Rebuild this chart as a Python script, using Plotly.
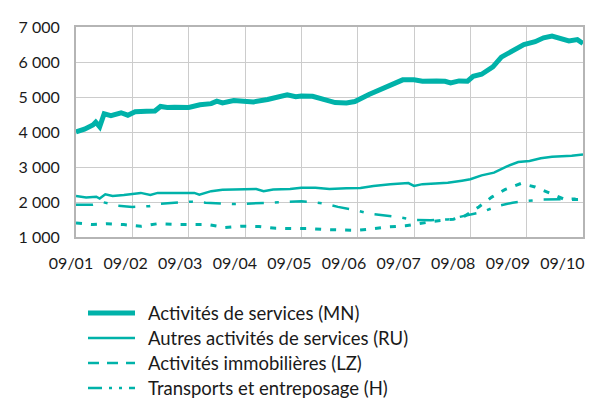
import plotly.graph_objects as go

# Time axis in decimal years (label "09/YY" = September of year YY)
mn_t = [2001.00, 2001.15, 2001.30, 2001.35, 2001.42, 2001.50, 2001.62, 2001.80, 2001.92,
        2002.05, 2002.25, 2002.40, 2002.50, 2002.62, 2002.75, 2003.00, 2003.20, 2003.40,
        2003.50, 2003.60, 2003.80, 2004.00, 2004.15, 2004.40, 2004.60, 2004.75, 2004.90,
        2005.00, 2005.20, 2005.40, 2005.60, 2005.80, 2005.95, 2006.20, 2006.40, 2006.60,
        2006.80, 2007.00, 2007.15, 2007.40, 2007.55, 2007.65, 2007.80, 2007.95, 2008.05,
        2008.20, 2008.40, 2008.55, 2008.75, 2008.95, 2009.15, 2009.30, 2009.45, 2009.60,
        2009.75, 2009.90, 2009.98, 2010.00]
mn_v = [4000, 4080, 4200, 4280, 4150, 4520, 4470, 4550, 4480,
        4580, 4590, 4600, 4730, 4700, 4710, 4700, 4780, 4810,
        4880, 4830, 4900, 4890, 4860, 4930, 4990, 5060, 5010,
        5030, 5020, 4940, 4840, 4830, 4870, 5070, 5200, 5360,
        5490, 5490, 5450, 5460, 5450, 5400, 5460, 5450, 5590,
        5650, 5860, 6140, 6330, 6500, 6580, 6690, 6740, 6670,
        6600, 6640, 6570, 6530]

ru_t = [2001.00, 2001.18, 2001.36, 2001.42, 2001.52, 2001.65, 2001.85, 2002.15, 2002.32,
        2002.45, 2002.70, 2003.10, 2003.19, 2003.40, 2003.60, 2004.00, 2004.20, 2004.33,
        2004.50, 2004.80, 2005.00, 2005.25, 2005.50, 2005.80, 2006.05, 2006.28, 2006.58,
        2006.90, 2007.00, 2007.15, 2007.35, 2007.60, 2007.85, 2008.00, 2008.20, 2008.42,
        2008.65, 2008.85, 2009.05, 2009.25, 2009.45, 2009.65, 2009.80, 2010.00]
ru_v = [2170, 2130, 2150, 2100, 2220, 2170, 2200, 2260, 2200,
        2260, 2260, 2260, 2210, 2310, 2350, 2360, 2370, 2310,
        2360, 2370, 2410, 2410, 2370, 2390, 2400, 2460, 2510,
        2540, 2460, 2510, 2530, 2550, 2610, 2650, 2760, 2840,
        3020, 3140, 3170, 3250, 3290, 3300, 3320, 3360]

lz_t = [2001.00, 2001.30, 2001.55, 2001.85, 2002.15, 2002.45, 2002.75, 2003.05, 2003.35,
        2003.65, 2003.95, 2004.25, 2004.55, 2004.85, 2005.15, 2005.45, 2005.75, 2006.00,
        2006.30, 2006.55, 2006.85, 2007.10, 2007.40, 2007.70, 2007.90, 2008.15, 2008.38,
        2008.62, 2008.90, 2009.15, 2009.42, 2009.65, 2009.85, 2010.00]
lz_v = [1400, 1355, 1380, 1355, 1305, 1380, 1360, 1350, 1355,
        1270, 1310, 1300, 1250, 1240, 1240, 1210, 1200, 1190,
        1240, 1290, 1320, 1390, 1460, 1510, 1600, 1860, 2140,
        2360, 2530, 2430, 2240, 2090, 2070, 2080]

h_t = [2001.00, 2001.30, 2001.49, 2001.75, 2002.00, 2002.30, 2002.50, 2002.75, 2003.05,
       2003.30, 2003.55, 2003.80, 2004.00, 2004.35, 2004.65, 2005.00, 2005.20, 2005.45,
       2005.65, 2005.95, 2006.20, 2006.45, 2006.72, 2007.00, 2007.30, 2007.60, 2007.90,
       2008.20, 2008.50, 2008.75, 2009.00, 2009.27, 2009.60, 2010.00]
h_v = [1920, 1920, 1990, 1890, 1860, 1880, 1950, 1970, 2010,
       1980, 1960, 1940, 1950, 1970, 2000, 2020, 2000, 1940,
       1860, 1770, 1670, 1620, 1570, 1490, 1480, 1500, 1600,
       1710, 1890, 1980, 2030, 2070, 2080, 2100]

series_names = ["Activités de services (MN)", "Autres activités de services (RU)",
                "Activités immobilières (LZ)", "Transports et entreposage (H)"]

grid_years = [2001, 2002, 2003, 2004, 2005, 2006, 2007, 2008, 2009, 2010]
tick_labels = ["09/01", "09/02", "09/03", "09/04", "09/05",
               "09/06", "09/07", "09/08", "09/09", "09/10"]
y_ticks = [1000, 2000, 3000, 4000, 5000, 6000, 7000]
y_labels = ["1 000", "2 000", "3 000", "4 000", "5 000", "6 000", "7 000"]

TEAL = "#00B2A9"
FONT = "Lato"
TEXT = "#1a1a1a"

# line styles per series
styles = [
    dict(color=TEAL, width=5),
    dict(color=TEAL, width=2.5),
    dict(color=TEAL, width=3, dash="6px,9px"),
    dict(color=TEAL, width=2.5, dash="17px,11px,4px,11px"),
]
legend_styles = [
    dict(color=TEAL, width=5),
    dict(color=TEAL, width=2.5),
    dict(color=TEAL, width=2.5, dash="11px,8px"),
    dict(color=TEAL, width=2.5, dash="14px,7px,3px,7px,3px,7px"),
]

# page geometry in pixels; the frame of the plot spans x 76..583, y 27..237
W, H = 604, 399
L, R, T, B = 40, 21, 27, 162
pw, ph = W - L - R, H - T - B
FRAME_LEFT = 76

fig = go.Figure()
for t, v, name, st in zip([mn_t, ru_t, lz_t, h_t], [mn_v, ru_v, lz_v, h_v],
                          series_names, styles):
    fig.add_trace(go.Scatter(x=t, y=v, mode="lines", name=name, line=st,
                             showlegend=False))

# separate label axis pair (x2/y3) carrying the date labels,
# spaced slightly tighter than the yearly grid
fig.add_trace(go.Scatter(x=[2001, 2010], y=[None, None], xaxis="x2", yaxis="y3",
                         showlegend=False, hoverinfo="skip"))


def px_to_paper(px, py):
    return (px - L) / pw, (H - B - py) / ph


# legend block below the chart
row_y = [313, 338, 363, 388]
for name, st, ry in zip(series_names, legend_styles, row_y):
    x0, y0 = px_to_paper(88, ry)
    x1, _ = px_to_paper(135, ry)
    fig.add_shape(type="line", xref="paper", yref="paper", x0=x0, x1=x1, y0=y0, y1=y0,
                  line=st)
    xt, _ = px_to_paper(146, ry)
    fig.add_annotation(xref="paper", yref="paper", x=xt, y=y0, text=name,
                       showarrow=False, xanchor="left", yanchor="middle",
                       font=dict(family=FONT, size=18.5, color=TEXT))

label_step = 54.6  # px between date labels
x2_start = 2001 - (71 - L) / label_step
x2_end = x2_start + pw / label_step

fig.update_layout(
    width=W, height=H,
    margin=dict(l=L, r=R, t=T, b=B, autoexpand=False),
    paper_bgcolor="white", plot_bgcolor="rgba(0,0,0,0)",
    font=dict(family=FONT, size=16, color=TEXT),
    showlegend=False,
    xaxis=dict(domain=[(FRAME_LEFT - L) / pw, 1], range=[2001, 2010],
               tickvals=grid_years, showticklabels=False,
               showgrid=True, gridcolor="#cccccc", gridwidth=1,
               showline=True, linecolor="#b5b5b5", linewidth=2, mirror=True,
               ticks="", zeroline=False, automargin=False),
    xaxis2=dict(domain=[0, 1], range=[x2_start, x2_end], anchor="y3", side="bottom",
                tickvals=grid_years, ticktext=tick_labels, showgrid=False,
                showline=False, ticks="outside", ticklen=12,
                tickcolor="rgba(0,0,0,0)", zeroline=False, automargin=False,
                tickfont=dict(family=FONT, size=16, color=TEXT)),
    yaxis=dict(range=[1000, 7000], tickvals=y_ticks, ticktext=y_labels,
               showgrid=True, gridcolor="#cccccc", gridwidth=1,
               showline=True, linecolor="#b5b5b5", linewidth=2, mirror=True,
               ticks="outside", ticklen=11, tickcolor="rgba(0,0,0,0)",
               zeroline=False, automargin=False,
               tickfont=dict(family=FONT, size=16, color=TEXT)),
    yaxis3=dict(domain=[0, 1], range=[0, 1], anchor="x2", visible=False,
                showgrid=False, zeroline=False),
)

fig.write_html("out.html")
